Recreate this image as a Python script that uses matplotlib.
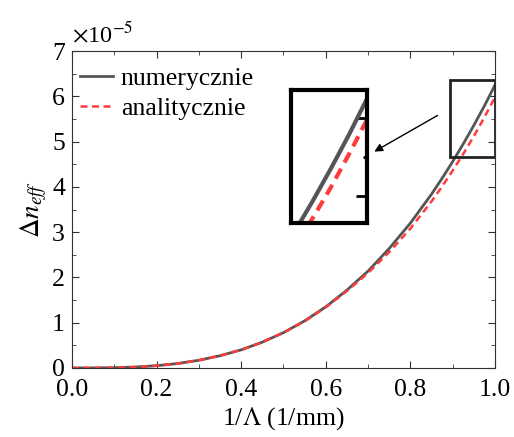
import matplotlib
matplotlib.use('Agg')
import matplotlib.pyplot as plt
from matplotlib.ticker import MultipleLocator, FormatStrFormatter
from matplotlib.patches import Rectangle

#%% Plot features
plt.rcParams['font.family'] = ['Liberation Serif', 'DejaVu Serif']
plt.rcParams['mathtext.fontset'] = 'stix'
font_size = 18.5

# data (units of 1e-5)
x = [0.0, 0.05, 0.1, 0.15, 0.2, 0.25, 0.3, 0.35, 0.4, 0.45, 0.5,
     0.55, 0.6, 0.65, 0.7, 0.75, 0.8, 0.85, 0.875, 0.9, 0.925, 0.95, 0.975, 1.0]
numerycznie = [0.0, 0.001, 0.006, 0.021, 0.05, 0.098, 0.17, 0.27, 0.40, 0.57, 0.78,
               1.04, 1.35, 1.72, 2.14, 2.64, 3.20, 3.84, 4.19, 4.56, 4.95, 5.36, 5.79, 6.25]
analitycznie = [0.0, 0.001, 0.006, 0.021, 0.05, 0.098, 0.17, 0.27, 0.40, 0.57, 0.78,
                1.03, 1.34, 1.70, 2.10, 2.56, 3.08, 3.68, 4.01, 4.36, 4.73, 5.12, 5.54, 5.98]

gray = '#555555'
red = '#ff3b3b'

fig = plt.figure(figsize=(5.14, 4.37), dpi=100)
ax = fig.add_axes([0.140, 0.158, 0.823, 0.725])
ax.plot(x, numerycznie, color=gray, lw=2, label='numerycznie')
ax.plot(x, analitycznie, color=red, lw=1.8, ls=(0, (2.8, 1.8)), label='analitycznie')
ax.set_xlim(0, 1.0)
ax.set_ylim(0, 7)
ax.xaxis.set_major_locator(MultipleLocator(0.2))
ax.xaxis.set_minor_locator(MultipleLocator(0.1))
ax.yaxis.set_major_locator(MultipleLocator(1))
ax.yaxis.set_minor_locator(MultipleLocator(0.5))
ax.tick_params(which='both', direction='in', top=True, right=True, labelsize=font_size,
               color='#333333')
ax.tick_params(which='major', length=5)
ax.tick_params(which='minor', length=3)
ax.tick_params(axis='x', pad=8)
ax.tick_params(axis='y', pad=5)
ax.xaxis.set_major_formatter(FormatStrFormatter('%.1f'))
for s in ax.spines.values():
    s.set_color('#333333')
ax.set_xlabel(r'1/$\Lambda$ (1/mm)', fontsize=font_size, labelpad=3)
ax.set_ylabel(r'$\Delta n_{eff}$', fontsize=font_size + 1, labelpad=2)
ax.text(0.0, 1.015, r'$\times$10$^{-5}$', transform=ax.transAxes, fontsize=font_size - 1,
        ha='left', va='bottom')
ax.legend(loc='upper left', bbox_to_anchor=(0.0, 0.975), frameon=False,
          fontsize=font_size, handlelength=1.3, handletextpad=0.3, labelspacing=0.3,
          borderaxespad=0.0, borderpad=0.3)

# zoom box
x0, x1, y0, y1 = 0.894, 1.0, 4.66, 6.36
ax.add_patch(Rectangle((x0, y0), x1 - x0, y1 - y0, fill=False, ec='#222222', lw=2, zorder=5))
ax.annotate('', xy=(0.709, 4.75), xytext=(0.87, 5.61),
            arrowprops=dict(arrowstyle='-|>', color='black', lw=1, mutation_scale=12))

ins = fig.add_axes([0.566, 0.490, 0.148, 0.304])
ins.plot(x, numerycznie, color=gray, lw=3)
ins.plot(x, analitycznie, color=red, lw=3, ls=(0, (2.7, 1.7)))
ins.set_xlim(x0, x1)
ins.set_ylim(y0, y1)
ins.set_xticks([])
ins.yaxis.set_major_locator(MultipleLocator(1))
ins.yaxis.set_minor_locator(MultipleLocator(0.5))
ins.tick_params(axis='y', which='both', direction='in', left=False, right=True,
                labelleft=False, width=2)
ins.tick_params(axis='y', which='major', length=8)
ins.tick_params(axis='y', which='minor', length=3)
for s in ins.spines.values():
    s.set_linewidth(3)
    s.set_color('black')

plt.savefig('out.png', dpi=100)
plt.close(fig)
